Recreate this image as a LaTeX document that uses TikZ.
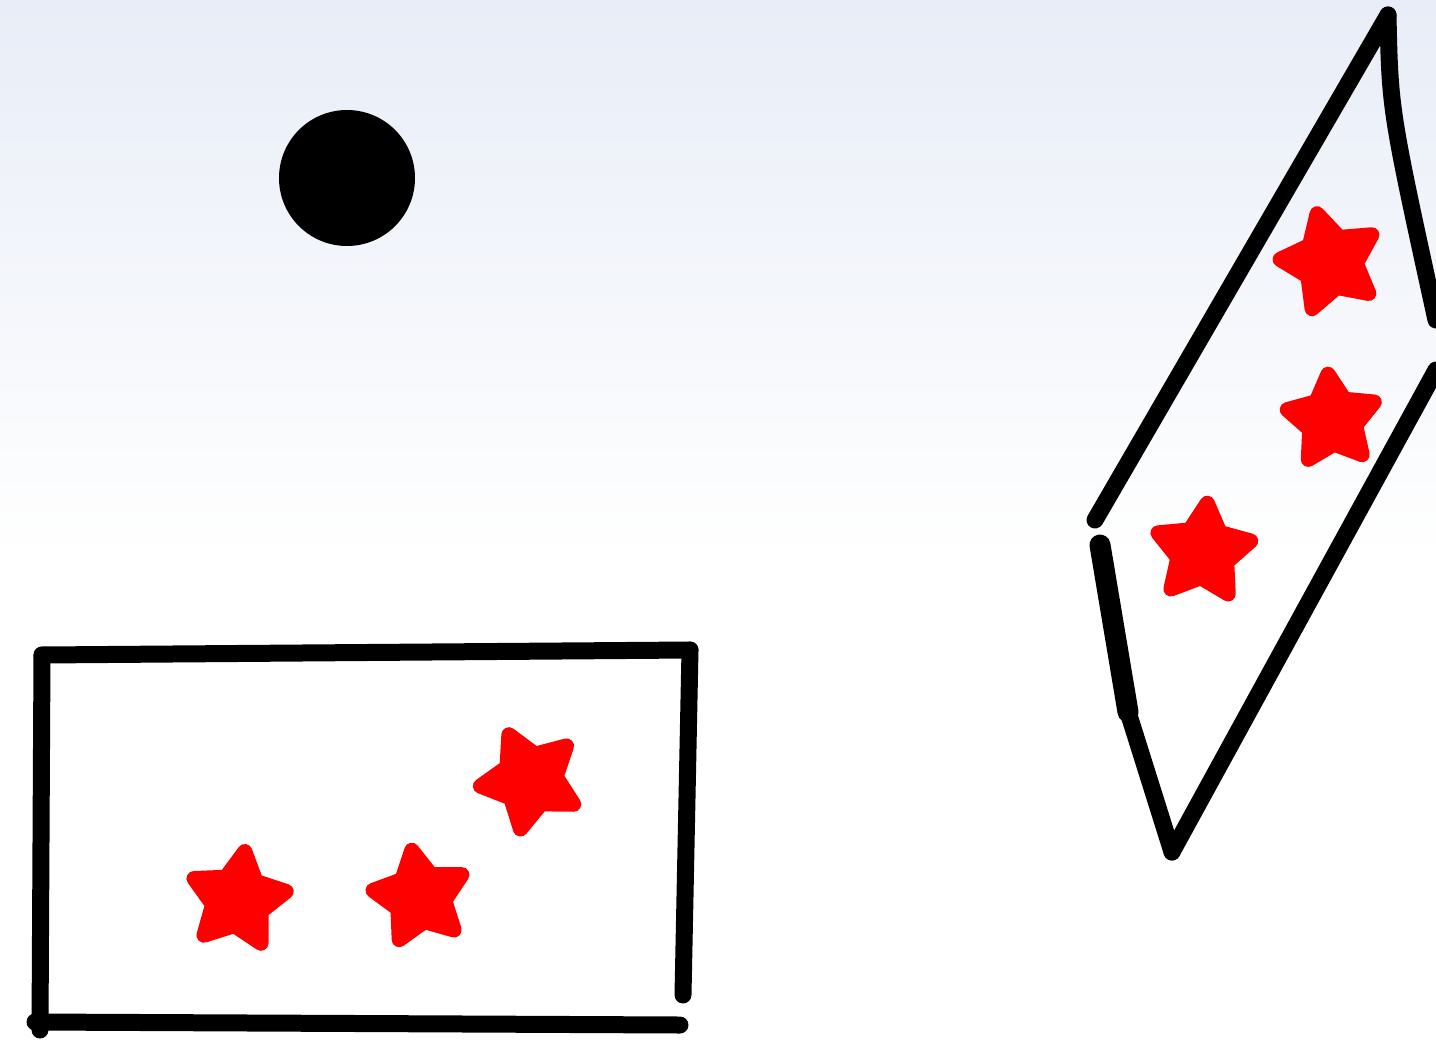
\documentclass[tikz,border=0pt]{standalone}
\usetikzlibrary{shapes.geometric}
\definecolor{bgtop}{HTML}{E8EDF7}
\definecolor{inkred}{HTML}{FF0000}
\begin{document}
\begin{tikzpicture}[x=1pt,y=-1pt,
  ink/.style={line width=17pt,line cap=round,line join=round,black},
  redstar/.style={star,star points=5,star point ratio=1.9,minimum size=#1,inner sep=0pt,fill=inkred,draw=inkred,line width=15pt,line join=round}]
\useasboundingbox (0,0) rectangle (1436,1045);
\shade[top color=bgtop,bottom color=white] (0,0) rectangle (1436,560);
\fill[white] (0,560) rectangle (1436,1045);
% ball
\fill[black] (347,178) circle[radius=68];
\node[coordinate] (ball) at (347,178) {};
% rectangle
\coordinate (r1) at (42,655);
\coordinate (r2) at (690,650);
\coordinate (r3) at (683,995);
\coordinate (r4) at (680,1025);
\coordinate (r5) at (35,1022);
\draw[ink] (r1) -- (r2);
\draw[ink] (r2) -- (r3);
\draw[ink] (r5) -- (r4);
\draw[ink] (r1) -- (40,1030);
% stars in rectangle
\node[redstar=98pt,rotate=-8] (s1) at (238,900) {};
\node[redstar=95pt,rotate=10] (s2) at (420,897) {};
\node[redstar=100pt,rotate=25] (s3) at (530,780) {};
% parallelogram
\coordinate (p1) at (1388,15);
\coordinate (p2) at (1095,520);
\coordinate (p3) at (1436,320);
\coordinate (p4) at (1436,370);
\coordinate (p5) at (1172,852);
\coordinate (p6) at (1100,545);
\coordinate (p7) at (1128,712);
\draw[ink] (p1) -- (p2);
\draw[ink] (p1) .. controls (1390,110) .. (p3);
\draw[ink] (p4) -- (p5);
\draw[ink,line width=21pt] (p6) -- (p7);
\draw[ink] (p7) -- (p5);
% stars in parallelogram
\node[redstar=100pt,rotate=15] (s4) at (1330,262) {};
\node[redstar=92pt,rotate=5] (s5) at (1332,420) {};
\node[redstar=98pt,rotate=-5] (s6) at (1203,552) {};
\end{tikzpicture}
\end{document}
